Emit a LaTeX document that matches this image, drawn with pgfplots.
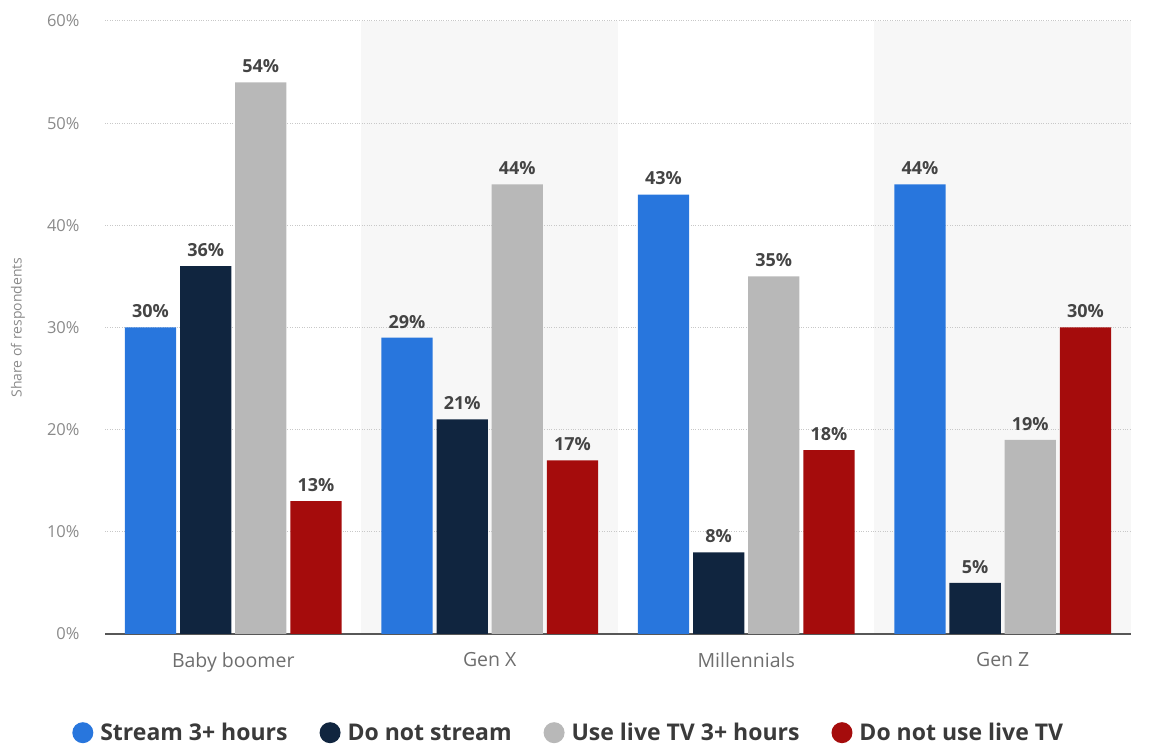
\documentclass[border=0pt]{standalone}
\usepackage{pgfplots}
\pgfplotsset{compat=1.18}
\usepackage{fontspec}
\setmainfont{Open Sans}
\definecolor{cblue}{HTML}{2876DD}
\definecolor{cnavy}{HTML}{10253F}
\definecolor{cgray}{HTML}{B8B8B8}
\definecolor{cred}{HTML}{A50C0C}
\definecolor{band}{HTML}{F7F7F7}
\definecolor{gridc}{HTML}{C8C8C8}
\definecolor{ticktext}{HTML}{8A8A8A}
\definecolor{labtext}{HTML}{444444}
\begin{document}
\begin{tikzpicture}
\begin{axis}[
  set layers=standard,
  scale only axis,
  width=1026pt, height=613pt,
  at={(0pt,0pt)}, anchor=south west,
  ybar, bar width=0.2,
  xmin=-0.5, xmax=3.5,
  ymin=0, ymax=60,
  xtick={0,1,2,3},
  xticklabels={Baby boomer, Gen X, Millennials, Gen Z},
  ytick={0,10,20,30,40,50,60},
  yticklabel={\pgfmathprintnumber{\tick}\%},
  /pgf/number format/assume math mode=true,
  ymajorgrids,
  grid style={gridc, dotted, line width=1pt},
  axis x line*=bottom,
  axis y line*=left,
  y axis line style={draw=none},
  x axis line style={draw=labtext!90, line width=1.6pt, -},
  xtick style={draw=none},
  ytick style={draw=none},
  yticklabel style={font=\fontsize{16.5}{18}\selectfont, text=ticktext, anchor=east, xshift=-22pt},
  xticklabel style={font=\fontsize{19.5}{21}\selectfont, text=ticktext!80!black, yshift=-11pt},
  ylabel={Share of respondents},
  ylabel style={font=\fontsize{14}{16}\selectfont, text=ticktext, at={(axis description cs:0,0.5)}, yshift=87pt, anchor=center},
  nodes near coords={\pgfmathprintnumber{\pgfplotspointmeta}\%},
  every node near coord/.append style={font=\bfseries\fontsize{18}{20}\selectfont, text=labtext, yshift=6pt},
  legend style={at={(0.452,-0.161)}, anchor=center, legend columns=4, draw=none,
    font=\bfseries\fontsize{23}{25}\selectfont, text=labtext!85!black,
    /tikz/every even column/.append style={column sep=30pt}},
  legend image code/.code={\fill[#1] (6pt,0pt) circle (10.5pt);},
  clip=false,
]
\begin{pgfonlayer}{axis background}
\fill[band] (axis cs:0.5,0) rectangle (axis cs:1.5,60);
\fill[band] (axis cs:2.5,0) rectangle (axis cs:3.5,60);
\end{pgfonlayer}
\addplot[fill=cblue, draw=none, bar shift=-0.3225] coordinates {(0,30) (1,29) (2,43) (3,44)};
\addplot[fill=cnavy, draw=none, bar shift=-0.1075] coordinates {(0,36) (1,21) (2,8) (3,5)};
\addplot[fill=cgray, draw=none, bar shift=0.1075] coordinates {(0,54) (1,44) (2,35) (3,19)};
\addplot[fill=cred, draw=none, bar shift=0.3225] coordinates {(0,13) (1,17) (2,18) (3,30)};
\legend{\hspace*{5pt}Stream 3+ hours, \hspace*{5pt}Do not stream, \hspace*{5pt}Use live TV 3+ hours, \hspace*{5pt}Do not use live TV}
\end{axis}
\path (-105pt,-115pt) rectangle (1048pt,634pt);
\end{tikzpicture}
\end{document}
